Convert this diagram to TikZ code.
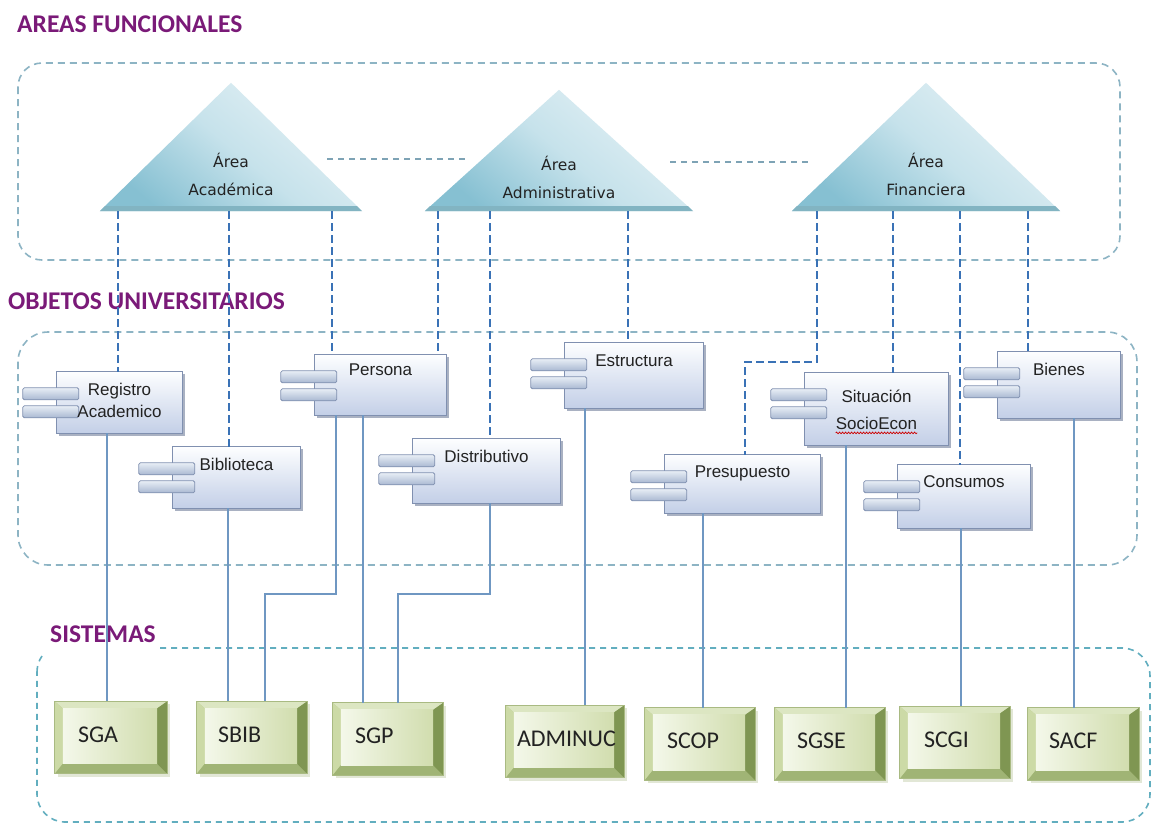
\documentclass[tikz,border=0pt]{standalone}
\usepackage{fontspec}
\setmainfont{Liberation Sans}
\newfontfamily\triafont{DejaVu Sans}
\newfontfamily\sysfont{Carlito}
\usetikzlibrary{decorations.pathmorphing}

\definecolor{titlec}{HTML}{7A1A78}
\definecolor{contc}{HTML}{8DB4C4}
\definecolor{contb}{HTML}{62AEBF}
\definecolor{dashc}{HTML}{3A72B6}
\definecolor{linkc}{HTML}{6F97C2}
\definecolor{trilinkc}{HTML}{7EA3B5}
\definecolor{tritop}{HTML}{E4F1F5}
\definecolor{trimid}{HTML}{C6E2EB}
\definecolor{tribot}{HTML}{86C0D2}
\definecolor{triband}{HTML}{82B4C2}
\definecolor{comptop}{HTML}{FDFEFF}
\definecolor{compbot}{HTML}{C3CFE7}
\definecolor{compline}{HTML}{8090B0}
\definecolor{compshadow}{HTML}{A9B1C2}
\definecolor{tabtop}{HTML}{E8EEF6}
\definecolor{tabbot}{HTML}{A9B8D2}
\definecolor{sysmidc}{HTML}{B8C98F}
\definecolor{systopc}{HTML}{DCE6C2}
\definecolor{sysleftc}{HTML}{CCDAA6}
\definecolor{sysrightc}{HTML}{7F9652}
\definecolor{sysbotc}{HTML}{A0B475}
\definecolor{sysfaceL}{HTML}{F4F8EA}
\definecolor{sysfaceR}{HTML}{D1DDAE}
\definecolor{sysshadowc}{HTML}{E2E7D6}
\definecolor{syslinec}{HTML}{A9BA82}
\definecolor{inkc}{HTML}{222222}

\tikzset{
  titletext/.style={anchor=west, inner sep=0pt, text=titlec,
    font=\sysfont\bfseries\fontsize{25.5}{30}\selectfont},
  groupbox/.style={draw=contc, line width=1.6pt, dash pattern=on 7pt off 5pt},
  groupboxb/.style={draw=contb, line width=1.6pt, dash pattern=on 6pt off 5pt},
  areadash/.style={draw=dashc, line width=1.6pt, dash pattern=on 8pt off 4pt},
  arealink/.style={draw=trilinkc, line width=1.3pt, dash pattern=on 6pt off 5pt},
  syslink/.style={draw=linkc, line width=1.1pt},
  trinode/.style={inner sep=0pt, minimum width=262, minimum height=128},
  trifill/.style={top color=tritop, bottom color=tribot, middle color=trimid, shading angle=-40},
  trilbl/.style={inner sep=0pt, align=center, text=inkc,
    font=\triafont\fontsize{15.5}{28}\selectfont},
  compnode/.style={inner sep=0pt},
  compface/.style={top color=comptop, bottom color=compbot, draw=compline, line width=0.8pt},
  comptab/.style={top color=tabtop, bottom color=tabbot, draw=compline, line width=0.8pt, rounded corners=1.5pt},
  complbl/.style={anchor=north, inner sep=0pt, align=center, text=inkc,
    font=\fontsize{17}{22}\selectfont},
  sysnode/.style={inner sep=0pt, minimum height=72},
  syslbl/.style={anchor=west, inner sep=0pt, text=inkc,
    font=\sysfont\fontsize{24}{28}\selectfont},
}

% UML component: body, shadow and two side tabs
\newcommand\compbox[5]{%
  \node[compnode, minimum width=#4, minimum height=#5] (#1) at (#2,#3) {};
  \fill[compshadow] ([shift={(2.5pt,-2.5pt)}]#1.north west) rectangle ([shift={(2.5pt,-2.5pt)}]#1.south east);
  \shade[compface] (#1.north west) rectangle (#1.south east);
  \shade[comptab] ([shift={(-34pt,-16pt)}]#1.north west) rectangle ++(56,12);
  \shade[comptab] ([shift={(-34pt,-34pt)}]#1.north west) rectangle ++(56,12);
}

% bevelled system button
\newcommand\sysbox[6]{%
  \node[sysnode, minimum width=#4] (#1) at (#2,#3) {};
  \fill[sysshadowc] ([shift={(3pt,-3pt)}]#1.north west) rectangle ([shift={(3pt,-3pt)}]#1.south east);
  \fill[sysmidc] (#1.north west) rectangle (#1.south east);
  \fill[systopc] (#1.north west) -- (#1.north east) -- ([shift={(-10pt,-7pt)}]#1.north east) -- ([shift={(8pt,-7pt)}]#1.north west) -- cycle;
  \fill[sysleftc] (#1.north west) -- ([shift={(8pt,-7pt)}]#1.north west) -- ([shift={(8pt,10pt)}]#1.south west) -- (#1.south west) -- cycle;
  \fill[sysbotc] (#1.south west) -- (#1.south east) -- ([shift={(-10pt,10pt)}]#1.south east) -- ([shift={(8pt,10pt)}]#1.south west) -- cycle;
  \fill[sysrightc] (#1.north east) -- (#1.south east) -- ([shift={(-10pt,10pt)}]#1.south east) -- ([shift={(-10pt,-7pt)}]#1.north east) -- cycle;
  \shade[left color=sysfaceL, right color=sysfaceR] ([shift={(8pt,-7pt)}]#1.north west) rectangle ([shift={(-10pt,10pt)}]#1.south east);
  \draw[syslinec, line width=0.8pt] (#1.north west) rectangle (#1.south east);
  \node[syslbl] (#1-t) at ([shift={(#6pt,3pt)}]#1.west) {#5};
}

% functional area: triangle with darker base band
\newcommand\areatri[3]{%
  \shade[trifill] (#1.south west) -- (#1.north) -- (#1.south east) -- cycle;
  \fill[triband] (#1.south west) -- ([shift={(5pt,5pt)}]#1.south west) -- ([shift={(-5pt,5pt)}]#1.south east) -- (#1.south east) -- cycle;
  \node[trilbl] (#1-t) at ([yshift=#2pt]#1.south) {#3};
}

\begin{document}
\begin{tikzpicture}[x=1pt, y=-1pt]
\useasboundingbox[fill=white] (0,0) rectangle (1152,823);

% section titles
\node[titletext] (tA) at (17,24) {AREAS FUNCIONALES};
\node[titletext] (tO) at (8,301) {OBJETOS UNIVERSITARIOS};
\node[titletext] (tS) at (50,634) {SISTEMAS};

% group frames
\draw[groupbox, rounded corners=24pt] (18,63) rectangle (1120,260);
\draw[groupbox, rounded corners=30pt] (18,332) rectangle (1137,565);
\draw[groupboxb, rounded corners=28pt] (160,648) -- (1150,648) -- (1150,822) -- (37,822) -- (37,672);
\draw[groupboxb] (37,672) arc[start angle=180, end angle=215, radius=28];

% functional areas
\node[trinode] (aca) at (231,147) {};
\node[trinode, minimum width=268, minimum height=121] (adm) at (559,150.5) {};
\node[trinode, minimum width=268] (fin) at (926,147) {};

\coordinate (l1a) at (327,159);
\coordinate (l1b) at (466,159);
\coordinate (l2a) at (670,162);
\coordinate (l2b) at (810,162);
\draw[arealink] (l1a) -- (l1b);
\draw[arealink] (l2a) -- (l2b);

\areatri{aca}{37}{Área\\Académica}
\areatri{adm}{34}{Área\\Administrativa}
\areatri{fin}{37}{Área\\Financiera}

% university objects
\compbox{reg}{119.5}{402.5}{125}{61}
\compbox{bib}{236.5}{477.5}{127}{61}
\compbox{per}{380.5}{385}{131}{60}
\compbox{dis}{486.5}{471}{147}{64}
\compbox{est}{634}{375.5}{138}{65}
\compbox{pre}{742.5}{484}{155}{58}
\compbox{sit}{876.5}{409}{143}{72}
\compbox{con}{964}{496.5}{132}{63}
\compbox{bie}{1059}{385}{122}{66}

\node[complbl] (reg-t) at ([yshift=-11pt]reg.north) {Registro\\Academico};
\node[complbl] (bib-t) at ([yshift=-11pt]bib.north) {Biblioteca};
\node[complbl] (per-t) at ([yshift=-9pt]per.north) {Persona};
\node[complbl] (dis-t) at ([yshift=-11pt]dis.north) {Distributivo};
\node[complbl] (est-t) at ([yshift=-12pt]est.north) {Estructura};
\node[complbl] (pre-t) at ([yshift=-11pt]pre.north) {Presupuesto};
\node[complbl, font=\fontsize{17}{27}\selectfont] (sit-t) at ([yshift=-17pt]sit.north) {Situación\\SocioEcon};
\node[complbl] (con-t) at ([yshift=-11pt]con.north) {Consumos};
\node[complbl] (bie-t) at ([yshift=-11pt]bie.north) {Bienes};
\draw[red!80!black, line width=0.7pt, decorate,
      decoration={snake, amplitude=0.8pt, segment length=3pt}]
  ([yshift=-3pt]sit-t.south west) -- ([yshift=-3pt]sit-t.south east);

% systems
\sysbox{sga}{111}{737.5}{112}{SGA}{23}
\sysbox{sbib}{252}{737.5}{110}{SBIB}{21}
\sysbox{sgp}{388}{739}{110}{SGP}{22}
\sysbox{admn}{565}{741.5}{118}{ADMINUC}{11}
\sysbox{scop}{700}{744}{110}{SCOP}{22}
\sysbox{sgse}{830}{744}{110}{SGSE}{22}
\sysbox{scgi}{955}{742.5}{110}{SCGI}{24}
\sysbox{sacf}{1083.5}{744}{111}{SACF}{21}

% areas to objects
\draw[areadash] (aca.south -| 118,0) -- (reg.north -| 118,0);
\draw[areadash] (aca.south -| 229,0) -- (bib.north -| 229,0);
\draw[areadash] (aca.south -| 332,0) -- (per.north -| 332,0);
\draw[areadash] (adm.south -| 438,0) -- (per.north -| 438,0);
\draw[areadash] (adm.south -| 490,0) -- (dis.north -| 490,0);
\draw[areadash] (adm.south -| 628,0) -- (est.north -| 628,0);
\coordinate (bendP) at (781,362);
\draw[areadash] (fin.south -| 817,0) |- (bendP) -| (pre.north -| 745,0);
\draw[areadash] (fin.south -| 893,0) -- (sit.north -| 893,0);
\draw[areadash] (fin.south -| 960,0) -- (con.north -| 960,0);
\draw[areadash] (fin.south -| 1028,0) -- (bie.north -| 1028,0);

% objects to systems
\coordinate (jogA) at (300,594);
\coordinate (jogB) at (444,594);
\draw[syslink] (reg.south -| 107,0) -- (sga.north -| 107,0);
\draw[syslink] (bib.south -| 228,0) -- (sbib.north -| 228,0);
\draw[syslink] (per.south -| 336,0) |- (jogA) -| (sbib.north -| 265,0);
\draw[syslink] (per.south -| 363,0) -- (sgp.north -| 363,0);
\draw[syslink] (dis.south -| 490,0) |- (jogB) -| (sgp.north -| 398,0);
\draw[syslink] (est.south -| 585,0) -- (admn.north -| 585,0);
\draw[syslink] (pre.south -| 703,0) -- (scop.north -| 703,0);
\draw[syslink] (sit.south -| 846,0) -- (sgse.north -| 846,0);
\draw[syslink] (con.south -| 961,0) -- (scgi.north -| 961,0);
\draw[syslink] (bie.south -| 1074,0) -- (sacf.north -| 1074,0);
\end{tikzpicture}
\end{document}
